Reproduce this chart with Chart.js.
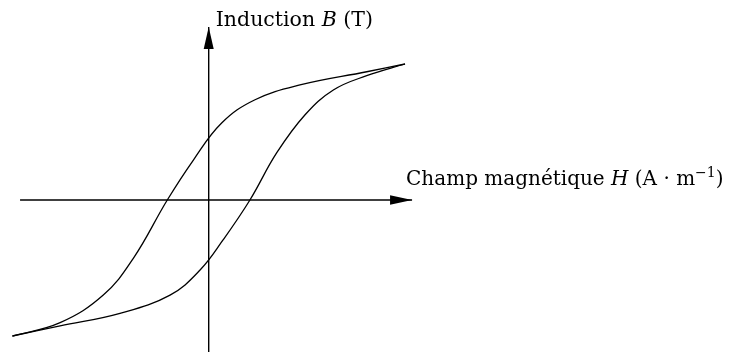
<!DOCTYPE html>
<html>
<head>
<meta charset="utf-8">
<script src="https://cdn.jsdelivr.net/npm/chart.js@4"></script>
<style>
  html, body { margin: 0; padding: 0; background: #ffffff; }
  #c { display: block; }
</style>
</head>
<body>
<canvas id="c" width="732" height="352"></canvas>
<script>
// Hysteresis loop: field H (normalised) vs induction B (normalised)
const upperH = [-1.0, -0.757, -0.537, -0.384, -0.211, -0.078, 0.066, 0.236, 0.465, 0.805, 1.0];
const upperB = [-1.0, -0.902, -0.699, -0.429, 0, 0.294, 0.566, 0.737, 0.846, 0.943, 1.0];
const lowerH = [-1.0, -0.757, -0.452, -0.197, -0.044, 0.073, 0.210, 0.346, 0.491, 0.635, 0.805, 1.0];
const lowerB = [-1.0, -0.926, -0.833, -0.699, -0.515, -0.294, 0, 0.346, 0.627, 0.809, 0.914, 1.0];

// Axis extents (data units)
const hAxis = [-0.961, 1.036];
const bAxis = [-1.118, 1.272];

const xLabel = ['Champ magnétique ', 'H', ' (A · m', '−1', ')'];
const yLabel = ['Induction ', 'B', ' (T)'];

const pts = (xs, ys) => xs.map((x, i) => ({ x: x, y: ys[i] }));

const arrowPlugin = {
  id: 'arrows',
  afterDatasetsDraw(chart) {
    const ctx = chart.ctx;
    const xs = chart.scales.x, ys = chart.scales.y;
    ctx.save();
    ctx.fillStyle = '#000';
    // horizontal arrow
    let tx = xs.getPixelForValue(hAxis[1]), ty = ys.getPixelForValue(0);
    ctx.beginPath();
    ctx.moveTo(tx, ty);
    ctx.lineTo(tx - 22, ty - 4.8);
    ctx.lineTo(tx - 22, ty + 4.8);
    ctx.closePath();
    ctx.fill();
    // vertical arrow
    tx = xs.getPixelForValue(0); ty = ys.getPixelForValue(bAxis[1]);
    ctx.beginPath();
    ctx.moveTo(tx, ty);
    ctx.lineTo(tx - 5, ty + 22);
    ctx.lineTo(tx + 5, ty + 22);
    ctx.closePath();
    ctx.fill();

    // labels
    const serif = '"DejaVu Serif", serif';
    function runs(parts, x, y, size) {
      let cx = x;
      parts.forEach((p) => {
        const italic = (p === 'H' || p === 'B');
        const sup = (p === '−1');
        const fs = sup ? size * 0.7 : size;
        ctx.font = (italic ? 'italic ' : '') + fs + 'px ' + serif;
        ctx.textBaseline = 'alphabetic';
        ctx.fillText(p, cx, sup ? y - size * 0.42 : y);
        cx += ctx.measureText(p).width;
      });
    }
    const x0 = xs.getPixelForValue(0);
    runs(yLabel, x0 + 7, ys.getPixelForValue(bAxis[1]) - 1, 20.5);
    runs(xLabel, xs.getPixelForValue(hAxis[1]) - 6, ys.getPixelForValue(0) - 15, 20);
    ctx.restore();
  }
};

new Chart(document.getElementById('c'), {
  type: 'scatter',
  data: {
    datasets: [
      { data: pts(hAxis, [0, 0]), showLine: true, borderColor: '#000', borderWidth: 1.4, pointRadius: 0 },
      { data: pts([0, 0], bAxis), showLine: true, borderColor: '#000', borderWidth: 1.4, pointRadius: 0 },
      { data: pts(upperH, upperB), showLine: true, borderColor: '#000', borderWidth: 1.3, pointRadius: 0, tension: 0.4 },
      { data: pts(lowerH, lowerB), showLine: true, borderColor: '#000', borderWidth: 1.3, pointRadius: 0, tension: 0.4 }
    ]
  },
  options: {
    responsive: false,
    animation: false,
    devicePixelRatio: 1,
    layout: { padding: 0 },
    scales: {
      x: { type: 'linear', min: -1.0632, max: 2.6658, display: false },
      y: { type: 'linear', min: -1.1176, max: 1.4706, display: false }
    },
    plugins: { legend: { display: false }, tooltip: { enabled: false } }
  },
  plugins: [arrowPlugin]
});
</script>
</body>
</html>
